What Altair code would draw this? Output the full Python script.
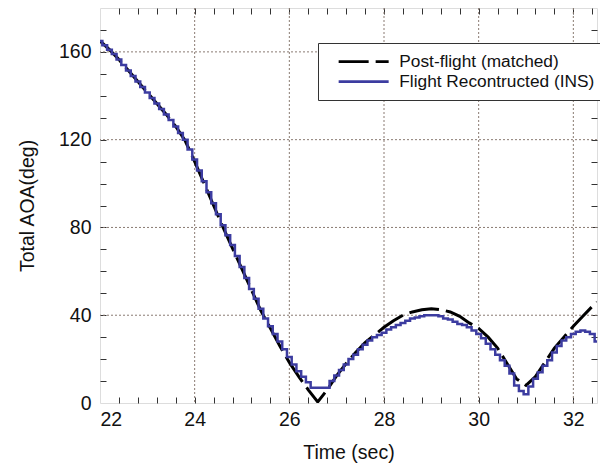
import altair as alt
import pandas as pd

# ---------------- data ----------------
series_names = ["Post-flight (matched)", "Flight Recontructed (INS)"]

t_black = [22.0, 22.2, 22.4, 22.6, 22.8, 23.0, 23.2, 23.4, 23.6, 23.8,
           24.0, 24.2, 24.4, 24.6, 24.8, 25.0, 25.2, 25.4, 25.6, 25.8,
           26.0, 26.2, 26.4, 26.6, 26.8, 27.0, 27.2, 27.4, 27.6, 27.8,
           28.0, 28.2, 28.4, 28.6, 28.8, 29.0, 29.2, 29.4, 29.6, 29.8,
           30.0, 30.2, 30.4, 30.6, 30.8, 31.0, 31.2, 31.4, 31.6, 31.8,
           32.0, 32.2, 32.4, 32.5]
v_black = [165, 161, 156.5, 151.5, 146.5, 141.5, 136.5, 131.5, 126, 119.5,
           110, 100, 90, 80, 70.5, 61, 51.5, 42, 34, 26,
           18.5, 12, 6, 0.5, 6, 12.5, 18, 23, 27.5, 31,
           34.5, 37.5, 40, 41.5, 42.5, 43, 42.5, 41.5, 39.5, 36.5,
           34, 30, 25, 18, 11, 8, 12, 18.5, 25, 30,
           35, 39.5, 44, 46]

t_blue = [round(22.0 + 0.1 * i, 1) for i in range(106)]
v_blue = [165, 163, 161, 159, 156.5, 154, 151.5, 149, 146.5, 144,
          141.5, 139, 136.5, 134, 131.5, 129, 126, 123, 120, 115.5,
          111, 106, 101, 96, 91, 86, 81, 76.5, 72, 67,
          62, 57, 52, 47.5, 43, 38.5, 35, 31.5, 28, 24.5,
          21, 17.5, 14.5, 12, 9.5, 7, 7, 7, 7, 10,
          12.5, 15, 17.5, 20, 22, 24.5, 26.5, 28.5, 30, 31,
          32, 33.5, 34.5, 35.5, 36.5, 37.5, 38.5, 39, 39.5, 40,
          40, 40, 39.5, 38.5, 38, 37, 36, 35.5, 34.5, 33,
          31.5, 29.5, 27, 24.5, 22, 19.5, 17, 13.5, 8, 5.5,
          4, 7.5, 11, 14, 17, 19.5, 23, 26, 28.5, 30,
          31.5, 32.5, 33, 32.5, 31.5, 28]

x_labels = [22, 24, 26, 28, 30, 32]
y_labels = [0, 40, 80, 120, 160]
x_grid = [24, 26, 28, 30, 32]
y_grid = [40, 80, 120, 160]
x_minor = [round(22.4 + 0.4 * i, 1) for i in range(26)]
y_minor = [10 * i for i in range(1, 18)]

# ---------------- styling ----------------
W, H = 497, 395
FONT = "Liberation Sans"
grid_color = "#8a7b72"
tick_color = "#333333"
text_color = "#111111"

xscale = alt.Scale(domain=[22, 32.5], nice=False, zero=False)
yscale = alt.Scale(domain=[0, 180], nice=False, zero=False)
color_scale = alt.Scale(domain=series_names, range=["#000000", "#3c3ca0"])
dash_scale = alt.Scale(domain=series_names, range=[[30, 7], [1, 0]])

legend = alt.Legend(
    title=None, orient="none", legendX=218, legendY=35,
    symbolType="M0.4,0H10.4", symbolSize=100, symbolStrokeWidth=2.6,
    labelFont=FONT, labelFontSize=17.3, labelColor=text_color, labelOffset=54,
    labelLimit=400,
    fillColor="white", strokeColor="#333333", padding=10, rowPadding=2,
)

df_black = pd.DataFrame({"t": t_black, "v": v_black, "series": series_names[0]})
df_blue = pd.DataFrame({"t": t_blue, "v": v_blue, "series": series_names[1]})


def tick_axis(orient, offset, values):
    return alt.Axis(orient=orient, offset=offset, values=values, labels=False,
                    domain=False, grid=False, ticks=True, tickSize=6,
                    tickColor=tick_color, tickWidth=1, title=None)


grid_v = alt.Chart(pd.DataFrame({"gx": x_grid})).mark_rule(
    color=grid_color, strokeDash=[2, 2], strokeWidth=1
).encode(x=alt.X("gx:Q", scale=xscale, axis=tick_axis("bottom", -H, x_minor)))

grid_h = alt.Chart(pd.DataFrame({"gy": y_grid})).mark_rule(
    color=grid_color, strokeDash=[2, 2], strokeWidth=1
).encode(y=alt.Y("gy:Q", scale=yscale, axis=tick_axis("left", -W, y_minor)))

black = alt.Chart(df_black).mark_line(
    interpolate="linear", strokeWidth=3, clip=True
).encode(
    x=alt.X("t:Q", scale=xscale, axis=alt.Axis(
        orient="bottom", values=x_labels, ticks=False, domain=False, grid=False,
        labelPadding=7, labelFont=FONT, labelFontSize=19.5, labelColor=text_color,
        title="Time (sec)", titleFont=FONT, titleFontSize=19.5, titleFontWeight="normal",
        titleColor=text_color, titlePadding=15)),
    y=alt.Y("v:Q", scale=yscale, axis=alt.Axis(
        orient="left", values=y_labels, ticks=False, domain=False, grid=False,
        labelPadding=9, labelFont=FONT, labelFontSize=19.5, labelColor=text_color,
        title="Total AOA(deg)", titleFont=FONT, titleFontSize=19.5, titleFontWeight="normal",
        titleColor=text_color, titlePadding=21)),
    color=alt.Color("series:N", scale=color_scale, legend=legend),
    strokeDash=alt.StrokeDash("series:N", scale=dash_scale, legend=legend),
)

blue = alt.Chart(df_blue).mark_line(
    interpolate="step", strokeWidth=2.5, clip=True
).encode(
    x=alt.X("t:Q", scale=xscale, axis=tick_axis("top", -H, x_minor)),
    y=alt.Y("v:Q", scale=yscale, axis=tick_axis("right", -W, y_minor)),
    color=alt.Color("series:N", scale=color_scale, legend=legend),
    strokeDash=alt.StrokeDash("series:N", scale=dash_scale, legend=legend),
)

chart = alt.layer(grid_v, grid_h, black, blue).resolve_axis(
    x="independent", y="independent"
).properties(
    width=W, height=H,
    autosize=alt.AutoSizeParams(type="none"),
    padding={"left": 100, "top": 8, "right": 3, "bottom": 67},
).configure_view(stroke="#333333", strokeWidth=2).configure(background="white")

chart.save("out.html", embed_options={"renderer": "svg", "actions": False})
